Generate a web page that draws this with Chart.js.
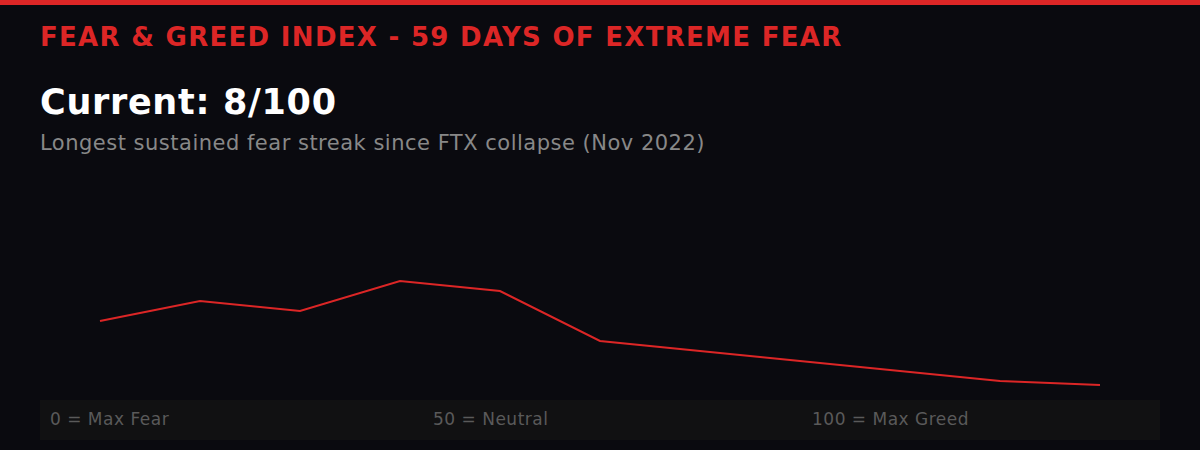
<!DOCTYPE html>
<html>
<head>
<meta charset="utf-8">
<script src="https://cdn.jsdelivr.net/npm/chart.js@4.4.1/dist/chart.umd.min.js"></script>
<style>
  html, body { margin: 0; padding: 0; }
  body { width: 1200px; height: 450px; background: #0a0a0f; position: relative; overflow: hidden; font-family: "DejaVu Sans", sans-serif; }
  #topbar { position: absolute; left: 0; top: 0; width: 1200px; height: 5px; background: #dc2626; }
  #title { position: absolute; left: 40px; top: 23.7px; font-size: 26px; letter-spacing: 1.3px; font-weight: bold; color: #dc2626; white-space: nowrap; line-height: 26px; }
  #current { position: absolute; left: 40px; top: 85.4px; font-size: 35px; letter-spacing: 0.7px; font-weight: bold; color: #ffffff; white-space: nowrap; line-height: 35px; }
  #sub { position: absolute; left: 40px; top: 133px; font-size: 21px; letter-spacing: 0.5px; color: #888888; white-space: nowrap; line-height: 21px; }
  #scalebar { position: absolute; left: 40px; top: 400px; width: 1120px; height: 40px; background: #111112; }
  .lbl { position: absolute; top: 10.5px; line-height: 17px; font-size: 17px; letter-spacing: 0.5px; color: #5a5a5a; white-space: nowrap; }
  #wrap { position: absolute; left: 0; top: 0; width: 1200px; height: 450px; }
</style>
</head>
<body>
<div id="topbar"></div>
<div id="title"></div>
<div id="current"></div>
<div id="sub"></div>
<div id="scalebar"></div>
<div id="wrap"><canvas id="c" width="1200" height="450"></canvas></div>
<script>
const titleText = "FEAR & GREED INDEX - 59 DAYS OF EXTREME FEAR";
const currentText = "Current: 8/100";
const subtitleText = "Longest sustained fear streak since FTX collapse (Nov 2022)";
const scaleLabels = ["0 = Max Fear", "50 = Neutral", "100 = Max Greed"];
const categories = ["1", "2", "3", "4", "5", "6", "7", "8", "9", "10", "11"];
const indexValues = [40, 50, 45, 60, 55, 30, 25, 20, 15, 10, 8];

document.getElementById('title').textContent = titleText;
document.getElementById('current').textContent = currentText;
document.getElementById('sub').textContent = subtitleText;
const bar = document.getElementById('scalebar');
const lblLeft = [10, 393, 772];
scaleLabels.forEach((t, i) => {
  const d = document.createElement('div');
  d.className = 'lbl';
  d.style.left = lblLeft[i] + 'px';
  d.textContent = t;
  bar.appendChild(d);
});

new Chart(document.getElementById('c'), {
  type: 'line',
  data: {
    labels: categories,
    datasets: [{
      data: indexValues,
      borderColor: '#dc2626',
      borderWidth: 2,
      pointRadius: 0,
      fill: false,
      tension: 0
    }]
  },
  options: {
    responsive: false,
    animation: false,
    devicePixelRatio: 1,
    layout: { padding: { left: 100, right: 100, top: 201, bottom: 49 } },
    plugins: { legend: { display: false }, tooltip: { enabled: false } },
    scales: {
      x: { display: false, offset: false },
      y: { display: false, min: 0, max: 100 }
    }
  }
});
</script>
</body>
</html>
